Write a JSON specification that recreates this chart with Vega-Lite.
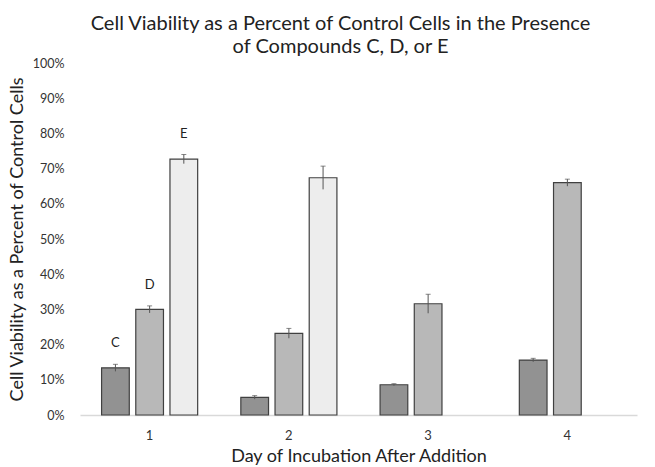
{
  "$schema": "https://vega.github.io/schema/vega-lite/v6.json",
  "width": 557,
  "height": 352,
  "autosize": {"type": "none"},
  "padding": {"left": 80, "top": 63, "right": 18, "bottom": 52},
  "background": "white",
  "title": {
    "text": ["Cell Viability as a Percent of Control Cells in the Presence", "of Compounds C, D, or E"],
    "font": "Lato",
    "fontSize": 20,
    "fontWeight": "normal",
    "color": "#222222",
    "anchor": "middle",
    "frame": "group",
    "dx": -18,
    "offset": 0,
    "lineHeight": 23
  },
  "config": {
    "view": {"stroke": null},
    "font": "Lato"
  },
  "data": {
    "values": [
      {"day": "1", "cmpd": "C", "v": 0.134, "lo": 0.124, "hi": 0.144, "label": "C"},
      {"day": "1", "cmpd": "D", "v": 0.300, "lo": 0.290, "hi": 0.310, "label": "D"},
      {"day": "1", "cmpd": "E", "v": 0.727, "lo": 0.714, "hi": 0.740, "label": "E"},
      {"day": "2", "cmpd": "C", "v": 0.050, "lo": 0.045, "hi": 0.055, "label": ""},
      {"day": "2", "cmpd": "D", "v": 0.232, "lo": 0.218, "hi": 0.246, "label": ""},
      {"day": "2", "cmpd": "E", "v": 0.674, "lo": 0.641, "hi": 0.707, "label": ""},
      {"day": "3", "cmpd": "C", "v": 0.086, "lo": 0.083, "hi": 0.089, "label": ""},
      {"day": "3", "cmpd": "D", "v": 0.316, "lo": 0.289, "hi": 0.343, "label": ""},
      {"day": "4", "cmpd": "C", "v": 0.156, "lo": 0.151, "hi": 0.161, "label": ""},
      {"day": "4", "cmpd": "D", "v": 0.660, "lo": 0.650, "hi": 0.670, "label": ""}
    ]
  },
  "encoding": {
    "x": {
      "field": "day",
      "type": "ordinal",
      "scale": {"paddingInner": 0.31, "paddingOuter": 0.155},
      "axis": {
        "title": "Day of Incubation After Addition",
        "titleFont": "Lato",
        "titleFontSize": 18,
        "titleFontWeight": "normal",
        "titleColor": "#222222",
        "titlePadding": 5,
        "labelAngle": 0,
        "labelFont": "Lato",
        "labelFontSize": 13,
        "labelColor": "#333333",
        "labelPadding": 14,
        "ticks": false,
        "domainColor": "#d9d9d9",
        "domainWidth": 1.5,
        "grid": false
      }
    },
    "xOffset": {
      "field": "cmpd",
      "type": "nominal",
      "scale": {"domain": ["C", "D", "E"], "paddingInner": 0.19}
    }
  },
  "layer": [
    {
      "mark": {"type": "bar", "stroke": "#404040", "strokeWidth": 1.2},
      "encoding": {
        "y": {
          "field": "v",
          "type": "quantitative",
          "scale": {"domain": [0, 1], "nice": false},
          "axis": {
            "title": "Cell Viability as a Percent of Control Cells",
            "titleFont": "Lato",
            "titleFontSize": 18,
            "titleFontWeight": "normal",
            "titleColor": "#222222",
            "titlePadding": 6,
            "values": [0, 0.1, 0.2, 0.3, 0.4, 0.5, 0.6, 0.7, 0.8, 0.9, 1],
            "tickCount": 11,
            "labelExpr": "format(datum.value, '.0%')",
            "labelOverlap": false,
            "labelBound": false,
            "labelFont": "Lato",
            "labelFontSize": 12.5,
            "labelColor": "#333333",
            "labelPadding": 16,
            "ticks": false,
            "domain": false,
            "grid": false
          }
        },
        "fill": {
          "field": "cmpd",
          "type": "nominal",
          "scale": {"domain": ["C", "D", "E"], "range": ["#929292", "#b8b8b8", "#ededed"]},
          "legend": null
        }
      }
    },
    {
      "mark": {"type": "rule", "color": "#555555", "strokeWidth": 1},
      "encoding": {
        "y": {"field": "lo", "type": "quantitative"},
        "y2": {"field": "hi"}
      }
    },
    {
      "mark": {"type": "tick", "color": "#555555", "thickness": 1, "size": 5, "orient": "horizontal"},
      "encoding": {
        "y": {"field": "hi", "type": "quantitative"}
      }
    },
    {
      "mark": {"type": "text", "font": "Lato", "fontSize": 13, "color": "#222222", "baseline": "bottom", "dy": -14},
      "encoding": {
        "y": {"field": "hi", "type": "quantitative"},
        "text": {"field": "label"}
      }
    }
  ]
}
